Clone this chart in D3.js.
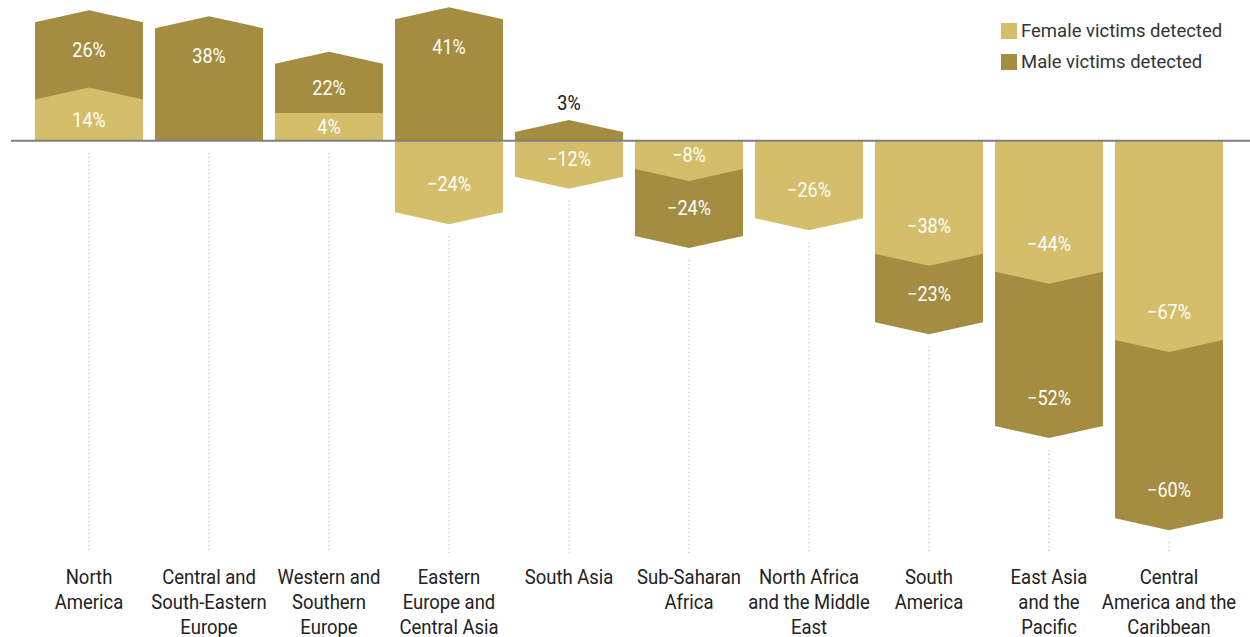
<!DOCTYPE html>
<html>
<head>
<meta charset="utf-8">
<script src="https://cdn.jsdelivr.net/npm/d3@7"></script>
<style>
  html, body { margin: 0; padding: 0; background: #fff; }
  svg { display: block; font-family: Roboto, "Noto Sans", sans-serif; }
</style>
</head>
<body>
<svg id="chart" width="1250" height="637"></svg>
<script>
// ---- data ----
const categories = [
  "North America", "Central and South-Eastern Europe", "Western and Southern Europe",
  "Eastern Europe and Central Asia", "South Asia", "Sub-Saharan Africa",
  "North Africa and the Middle East", "South America", "East Asia and the Pacific",
  "Central America and the Caribbean"
];
const categoryLines = [
  ["North", "America"],
  ["Central and", "South-Eastern", "Europe"],
  ["Western and", "Southern", "Europe"],
  ["Eastern", "Europe and", "Central Asia"],
  ["South Asia"],
  ["Sub-Saharan", "Africa"],
  ["North Africa", "and the Middle", "East"],
  ["South", "America"],
  ["East Asia", "and the", "Pacific"],
  ["Central", "America and the", "Caribbean"]
];
const femaleValues = [14, 0, 4, -24, -12, -8, -26, -38, -44, -67];
const maleValues   = [26, 38, 22, 41, 3, -24, 0, -23, -52, -60];
const seriesNames  = ["Female victims detected", "Male victims detected"];

// ---- styling ----
const colors = { female: "#d4be6a", male: "#a48d40" };
const W = 1250, H = 637;
const svg = d3.select("#chart");
const SX = 0.88; // horizontal compression to mimic condensed face

const x = d3.scaleBand().domain(categories).range([29, 1229]).paddingInner(0.1).paddingOuter(0.05);
const y = d3.scaleLinear().domain([-140, 47.5]).range([141 + 140 * 2.97, 141 - 47.5 * 2.97]);

const fmt = d3.format("d");
const TIP = 12;       // chevron height
const MIN_INNER = 28; // minimum drawn height of inner segment when stacked
const y0 = y(0);

function ctext(sel, tx, ty, sx) {
  return sel.attr("transform", `translate(${tx},${ty}) scale(${sx},1)`);
}

const gBars = svg.append("g");
const gLabels = svg.append("g");
const gDots = svg.append("g");

categories.forEach((cat, i) => {
  const f = femaleValues[i], m = maleValues[i];
  const x0 = x(cat), x1 = x0 + x.bandwidth(), xc = x0 + x.bandwidth() / 2;
  const segs = [];
  [1, -1].forEach(sign => {
    const fOn = f * sign > 0, mOn = m * sign > 0;
    const dir = sign > 0 ? -1 : 1;
    let innerEdge = y0;
    if (fOn) {
      let e = y(f);
      const realH = Math.abs(e - y0);
      if (mOn && realH < MIN_INNER) e = y0 + dir * MIN_INNER;
      segs.push({ key: "female", v: f, start: y0, end: e, dir, chevron: realH > TIP, order: 1 });
      innerEdge = e;
    }
    if (mOn) {
      const total = (fOn ? f : 0) + m;
      segs.push({ key: "male", v: m, start: innerEdge, end: y(total), dir, chevron: true, order: 0 });
    }
  });
  segs.slice().sort((a, b) => a.order - b.order).forEach(s => {
    const pts = [[x0, y0], [x1, y0], [x1, s.end]];
    if (s.chevron) pts.push([xc, s.end + s.dir * TIP]);
    pts.push([x0, s.end]);
    gBars.append("path")
      .attr("d", d3.line()(pts) + "Z")
      .attr("fill", colors[s.key]);
  });
  segs.forEach(s => {
    const h = Math.abs(s.end - s.start);
    let ly, col = "#fff";
    if (h < 20) {
      ly = s.end + s.dir * TIP + s.dir * 17;
      col = "#111";
    } else if (h >= 56) {
      ly = s.end - s.dir * 28;
    } else {
      ly = (s.start + s.end) / 2;
    }
    ctext(gLabels.append("text"), xc, ly, SX)
      .attr("text-anchor", "middle")
      .attr("dominant-baseline", "central")
      .attr("font-size", 20.5)
      .attr("fill", col)
      .text(fmt(s.v) + "%");
  });
  const negTotal = (f < 0 ? f : 0) + (m < 0 ? m : 0);
  const bottom = negTotal < 0 ? y(negTotal) + TIP : y0;
  gDots.append("line")
    .attr("x1", xc).attr("x2", xc)
    .attr("y1", bottom + 12).attr("y2", 553)
    .attr("stroke", "#a0a0a0").attr("stroke-width", 1)
    .attr("stroke-dasharray", "1,3");
  const t = ctext(svg.append("text"), xc, 0, SX)
    .attr("text-anchor", "middle")
    .attr("font-size", 21)
    .attr("fill", "#222");
  categoryLines[i].forEach((ln, j) => {
    t.append("tspan").attr("x", 0).attr("y", 584 + j * 25).text(ln);
  });
});

// zero line
svg.append("line")
  .attr("x1", 11).attr("x2", W)
  .attr("y1", y0 - 0.3).attr("y2", y0 - 0.3)
  .attr("stroke", "#808080").attr("stroke-width", 2);

// legend
const leg = svg.append("g");
seriesNames.forEach((name, i) => {
  const key = i === 0 ? "female" : "male";
  const ly = 31 + i * 31;
  leg.append("rect").attr("x", 1001).attr("y", ly - 8).attr("width", 16).attr("height", 16)
    .attr("fill", colors[key]);
  ctext(leg.append("text"), 1021, ly, 1)
    .attr("dominant-baseline", "central")
    .attr("font-size", 18.5)
    .attr("fill", "#333")
    .text(name);
});
</script>
</body>
</html>
